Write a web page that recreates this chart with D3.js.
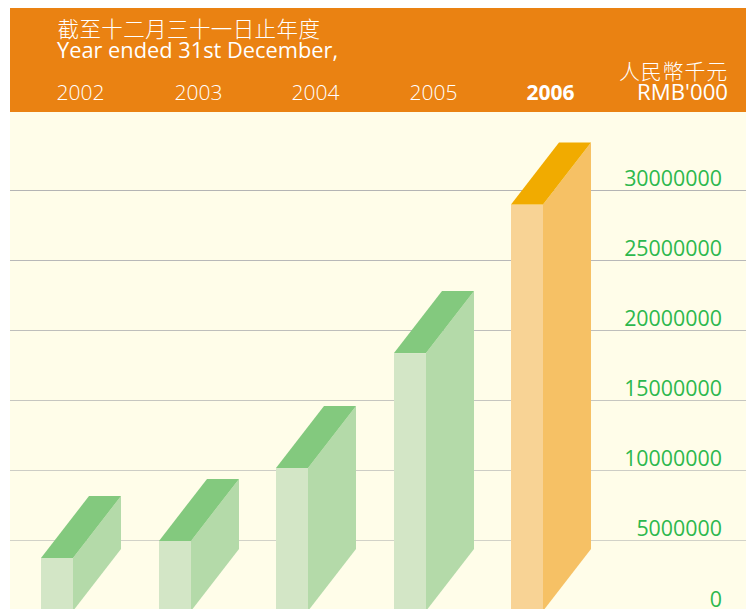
<!DOCTYPE html>
<html><head><meta charset="utf-8">
<script src="https://d3js.org/d3.v7.min.js"></script>
<style>html,body{margin:0;padding:0;background:#fff;overflow:hidden}svg{display:block}</style>
</head><body><div id="chart"></div>
<script>
const years = ["2002","2003","2004","2005","2006"];
const values = [3780000,5000000,10200000,18400000,29000000];
const highlightYear = "2006";
const tickValues = [0,5000000,10000000,15000000,20000000,25000000,30000000];
const gridColors = ["#d2d2c8","#d2d2c8","#cdcdc5","#c6c6c0","#bebebb","#b8b8b8","#b4b4b4"];
const titleZh = "截至十二月三十一日止年度";
const titleEn = "Year ended 31st December,";
const unitZh = "人民幣千元";
const unitEn = "RMB'000";
const greenFaces = {front:"#d3e6c6",side:"#b4daa9",top:"#83c97e"};
const amberFaces = {front:"#f8d395",side:"#f6c165",top:"#f1ab00"};

const W=746,H=609;
const svg=d3.select("#chart").append("svg").attr("width",W).attr("height",H);
const latin="'Open Sans','Noto Sans',sans-serif", cjk="'Noto Sans CJK TC',sans-serif";
const y=d3.scaleLinear().domain([0,30000000]).range([611,190.5]);
const x=d3.scaleBand().domain(years).range([41,543]).paddingInner(0.728);
const bx=k=>Math.round(x(k)), bw=Math.round(x.bandwidth());
const depthX=48, depthY=62;

svg.append("rect").attr("x",10).attr("y",112).attr("width",W-10).attr("height",H-112).attr("fill","#fffde9");
svg.append("rect").attr("x",10).attr("y",8).attr("width",W-10).attr("height",104).attr("fill","#ea8212");

const axis=d3.axisRight(y).tickValues(tickValues).tickSize(0).tickPadding(0).tickFormat(d3.format("d"));
const ag=svg.append("g").attr("class","y-axis").call(axis);
ag.select(".domain").remove();
ag.selectAll(".tick line").attr("x1",10).attr("x2",W).attr("stroke",(d,i)=>gridColors[i]).attr("stroke-width",1);
ag.selectAll(".tick").attr("transform",d=>`translate(0,${Math.round(y(d)-0.5)+0.5})`);
ag.selectAll(".tick text").attr("x",722).attr("dy",0).attr("y",-4.5).attr("text-anchor","end")
  .attr("fill","#2db84d").attr("font-family",latin).attr("font-size",21.4).attr("font-weight",400);

const bars=svg.append("g").selectAll("g").data(years.map((k,i)=>({k,v:values[i]}))).join("g");
const faces=d=>d.k===highlightYear?amberFaces:greenFaces;
const pts=a=>a.map(p=>p.join(",")).join(" ");
bars.append("rect").attr("x",d=>bx(d.k)).attr("y",d=>y(d.v)).attr("width",bw)
  .attr("height",d=>y(0)-y(d.v)).attr("fill",d=>faces(d).front);
bars.append("polygon").attr("fill",d=>faces(d).side).attr("points",d=>{
  const r=bx(d.k)+bw,t=y(d.v),b=y(0);
  return pts([[r,t],[r+depthX,t-depthY],[r+depthX,b-depthY],[r,b]]);});
bars.append("polygon").attr("fill",d=>faces(d).top).attr("points",d=>{
  const l=bx(d.k),r=l+bw,t=y(d.v);
  return pts([[l,t],[l+depthX,t-depthY],[r+depthX,t-depthY],[r,t]]);});

const head=svg.append("g").attr("fill","#fff");
head.append("text").attr("x",57.5).attr("y",36.5).attr("font-family",cjk).attr("font-size",21.5).attr("font-weight",300).attr("letter-spacing",0.4).text(titleZh);
head.append("text").attr("x",57).attr("y",58).attr("font-family",latin).attr("font-size",21.8).attr("font-weight",400).text(titleEn);
head.selectAll(".yr").data(years).join("text").attr("class","yr")
  .attr("x",d=>bx(d)+bw/2+23.5).attr("y",100).attr("text-anchor","middle")
  .attr("font-family",latin).attr("font-size",21)
  .attr("font-weight",d=>d===highlightYear?700:300).text(d=>d);
head.append("text").attr("x",728).attr("y",78.5).attr("text-anchor","end").attr("font-family",cjk).attr("font-size",21).attr("font-weight",300).attr("letter-spacing",0.8).text(unitZh);
head.append("text").attr("x",728).attr("y",100).attr("text-anchor","end").attr("font-family",latin).attr("font-size",22.2).attr("font-weight",400).text(unitEn);
</script></body></html>
